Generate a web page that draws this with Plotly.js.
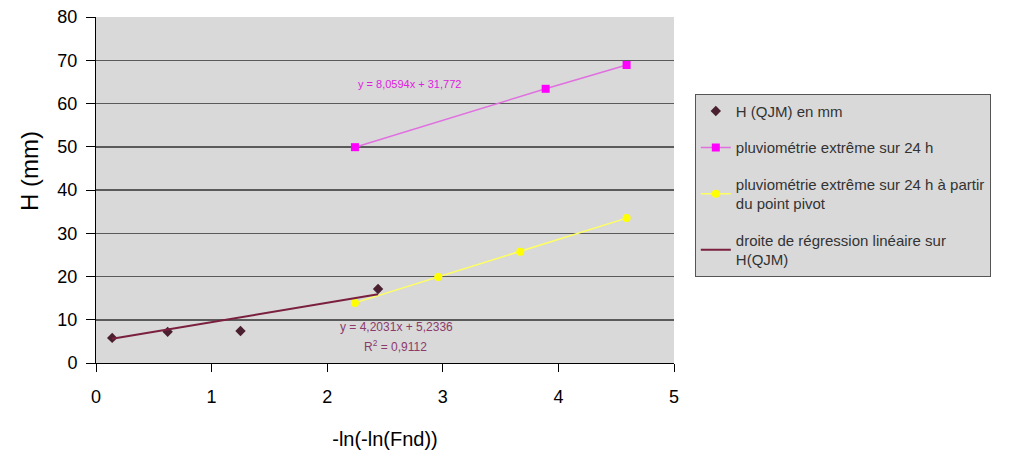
<!DOCTYPE html>
<html>
<head>
<meta charset="utf-8">
<script src="https://cdn.plot.ly/plotly-3.0.1.min.js"></script>
<style>html,body{margin:0;padding:0;background:#fff;overflow:hidden;}#chart{width:1019px;height:452px;}</style>
</head>
<body>
<div id="chart"></div>
<script>
// Data
const qjmX = [0.14, 0.62, 1.25, 2.44];
const qjmY = [5.8, 7.2, 7.4, 17.1];

const pluvioX = [2.24, 3.89, 4.59];
const pluvioY = [49.9, 63.4, 68.9];

const pivotX = [2.24, 2.96, 3.67, 4.59];
const pivotY = [13.9, 19.9, 25.7, 33.5];

const regX = [0.14, 2.44];
const regY = [5.6, 15.9];

const xTicks = [0, 1, 2, 3, 4, 5];
const yTicks = [0, 10, 20, 30, 40, 50, 60, 70, 80];

const names = [
  'H (QJM) en mm',
  'pluviométrie extrême sur 24 h',
  'pluviométrie extrême sur 24 h à partir<br>du point pivot',
  'droite de régression linéaire sur<br>H(QJM)'
];

const eqPluvio = 'y = 8,0594x + 31,772';
const eqReg = 'y = 4,2031x + 5,2336';
const r2Reg = 'R<sup>2</sup> = 0,9112';

const traces = [
  {x: qjmX, y: qjmY, name: names[0], mode: 'markers', type: 'scatter',
   marker: {symbol: 'diamond', size: 8, color: '#4a2030'}, legendgroup: 'a'},
  {x: pluvioX, y: pluvioY, name: names[1], mode: 'lines+markers', type: 'scatter',
   line: {color: '#e070e0', width: 1.5}, marker: {symbol: 'square', size: 8, color: '#ff00ff'}, legendgroup: 'b'},
  {x: pivotX, y: pivotY, name: names[2], mode: 'lines+markers', type: 'scatter',
   line: {color: '#ffff60', width: 1.5}, marker: {symbol: 'circle', size: 8, color: '#ffff00'}, legendgroup: 'c'},
  {x: regX, y: regY, name: names[3], mode: 'lines', type: 'scatter',
   line: {color: '#7a1f3d', width: 2}, legendgroup: 'd'}
];

const layout = {
  width: 1019, height: 452,
  margin: {l: 96, r: 345, t: 17, b: 89},
  paper_bgcolor: '#ffffff',
  plot_bgcolor: '#d9d9d9',
  font: {family: 'Liberation Sans, Arial, sans-serif', color: '#000'},
  xaxis: {
    range: [0, 5], tickvals: xTicks, ticktext: xTicks.map(String),
    showgrid: false, zeroline: false,
    showline: true, linecolor: '#000', linewidth: 1,
    ticks: 'outside', ticklen: 8, tickcolor: '#000', ticklabelstandoff: 9,
    tickfont: {size: 18},
    title: {text: '-ln(-ln(Fnd))', font: {size: 20}, standoff: 26}
  },
  yaxis: {
    range: [0, 80], tickvals: yTicks, ticktext: yTicks.map(String),
    showgrid: true, gridcolor: '#5a5a5a', gridwidth: 1.5, zeroline: false,
    showline: true, linecolor: '#000', linewidth: 1,
    ticks: 'outside', ticklen: 9, tickcolor: '#000', ticklabelstandoff: 5,
    tickfont: {size: 18}
  },
  legend: {
    x: 1.036, y: 0.778, xanchor: 'left', yanchor: 'top',
    bgcolor: '#d9d9d9', bordercolor: '#555', borderwidth: 1,
    font: {size: 15, color: '#333'}, tracegroupgap: 14,
    entrywidth: 340
  },
  showlegend: true,
  annotations: [
    {x: -0.114, y: 0.555, xref: 'paper', yref: 'paper', xanchor: 'center', yanchor: 'middle',
     text: 'H (mm)', textangle: -90,
     showarrow: false, font: {size: 24, color: '#000'}},
    {x: 2.71, y: 64.5, xref: 'x', yref: 'y', text: eqPluvio, showarrow: false,
     font: {size: 11, color: '#e020e0'}},
    {x: 2.6, y: 8.3, xref: 'x', yref: 'y', text: eqReg, showarrow: false,
     font: {size: 12, color: '#8b3a6b'}},
    {x: 2.59, y: 3.9, xref: 'x', yref: 'y', text: r2Reg, showarrow: false,
     font: {size: 12, color: '#8b3a6b'}}
  ]
};

Plotly.newPlot('chart', traces, layout, {displayModeBar: false, staticPlot: true});
</script>
</body>
</html>
